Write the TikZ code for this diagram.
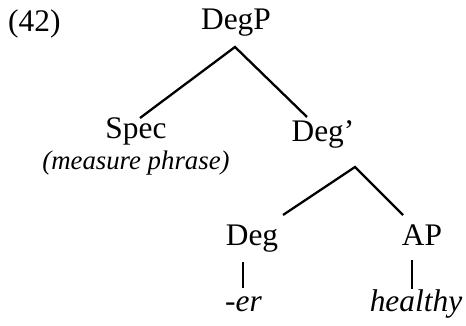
\documentclass[tikz,border=0pt]{standalone}
\usepackage{fontspec}
\setmainfont{Liberation Serif}
\begin{document}
\begin{tikzpicture}[x=1pt,y=-1pt,
  lab/.style={inner sep=0pt,anchor=base,font=\fontsize{31.4}{36}\selectfont},
  ital/.style={inner sep=0pt,anchor=base,font=\fontsize{31.4}{36}\selectfont\itshape},
  small/.style={inner sep=0pt,anchor=base,font=\fontsize{26.8}{32}\selectfont\itshape},
  branch/.style={line width=2.3pt},
  bar/.style={line width=1.3pt}]
\useasboundingbox (0,0) rectangle (466,326);
\node[lab,anchor=base west] (num) at (8,32) {(42)};
\node[lab] (degp) at (236,30) {DegP};
\node[lab] (spec) at (136,139) {Spec};
\node[small] (mp) at (136,170) {(measure phrase)};
\node[lab] (degbar) at (323,142) {Deg’};
\node[lab] (deg) at (252,245) {Deg};
\node[lab] (ap) at (422,245) {AP};
\node[ital] (er) at (243.5,311) {-er};
\node[ital] (healthy) at (416,311) {healthy};
\coordinate (degp-b) at (235,47);
\coordinate (spec-t) at (140,118);
\coordinate (degbar-t) at (307,117);
\coordinate (degbar-b) at (355,167);
\coordinate (deg-t) at (283,215);
\coordinate (ap-t) at (403,215);
\coordinate (deg-b) at (243,262);
\coordinate (er-t) at (243,288);
\coordinate (ap-b) at (412,260);
\coordinate (healthy-t) at (412,289);
\draw[branch] (spec-t) -- (degp-b) -- (degbar-t);
\draw[branch] (deg-t) -- (degbar-b) -- (ap-t);
\draw[bar] (deg-b) -- (er-t);
\draw[bar] (ap-b) -- (healthy-t);
\end{tikzpicture}
\end{document}
